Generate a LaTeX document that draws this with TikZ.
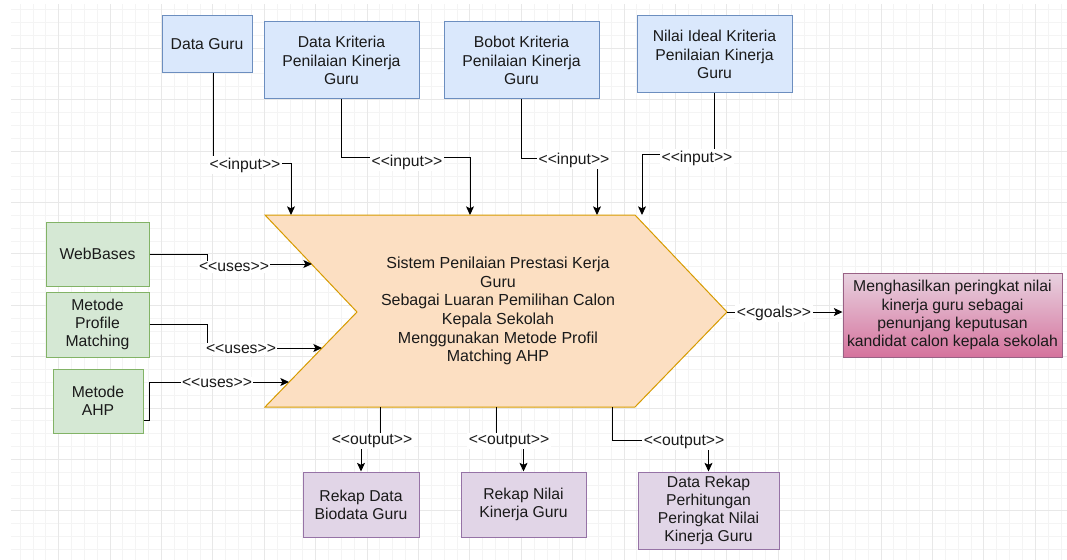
\documentclass[tikz,border=0pt]{standalone}
\usepackage{fontspec}
\setmainfont{Liberation Sans}
\usetikzlibrary{arrows.meta,calc}
\newcommand{\pxu}{0.75pt}
\definecolor{bfill}{HTML}{DAE8FC}
\definecolor{bdraw}{HTML}{6C8EBF}
\definecolor{gfill}{HTML}{D5E8D4}
\definecolor{gdraw}{HTML}{82B366}
\definecolor{pfill}{HTML}{E1D5E7}
\definecolor{pdraw}{HTML}{9673A6}
\definecolor{ofill}{HTML}{FCDFC2}
\definecolor{odraw}{HTML}{D79B00}
\definecolor{ktop}{HTML}{E8D2E0}
\definecolor{kbot}{HTML}{D5739D}
\definecolor{kdraw}{HTML}{996185}
\definecolor{minorg}{HTML}{F4F4F4}
\definecolor{majorg}{HTML}{E8E8E8}
\definecolor{txt}{HTML}{1A1A1A}
\begin{document}
\begin{tikzpicture}[x=0.75pt,y=-0.75pt,
  txtfont/.style={font=\fontsize{11.8}{13.6}\selectfont, text=txt},
  box/.style={draw, line width=0.75pt, align=center, inner sep=2pt, txtfont},
  sz/.style 2 args={minimum width=#1*0.75pt, minimum height=#2*0.75pt},
  bluebox/.style={box, fill=bfill, draw=bdraw},
  greenbox/.style={box, fill=gfill, draw=gdraw},
  purplebox/.style={box, fill=pfill, draw=pdraw},
  goalbox/.style={box, top color=ktop, bottom color=kbot, draw=kdraw},
  arr/.style={draw=black, line width=0.75pt, -{Stealth[length=6.5pt,width=6pt,inset=1.5pt]}},
  lbl/.style={fill=white, inner sep=1pt, txtfont},
  minorline/.style={draw=minorg, line width=0.75pt},
  majorline/.style={draw=majorg, line width=0.75pt}
]
\useasboundingbox (0,0) rectangle (1067,560);
\fill[white] (0,0) rectangle (1067,560);
% background grid
\begin{scope}
  \clip (11,5) rectangle (1067,560);
  \foreach \i in {0,...,84} {
    \draw[minorline] ({7.3+12.85*\i},0) -- ({7.3+12.85*\i},560);
  }
  \foreach \j in {0,...,45} {
    \draw[minorline] (0,{-3.1+12.85*\j}) -- (1067,{-3.1+12.85*\j});
  }
  \foreach \i in {0,...,21} {
    \draw[majorline] ({7.3+51.4*\i},0) -- ({7.3+51.4*\i},560);
  }
  \foreach \j in {0,...,11} {
    \draw[majorline] (0,{-3.1+51.4*\j}) -- (1067,{-3.1+51.4*\j});
  }
\end{scope}

% central chevron
\coordinate (cTL) at (265,215);
\coordinate (cTR) at (635,215);
\coordinate (tip) at (727,312);
\coordinate (cBR) at (635,407);
\coordinate (cBL) at (265,407);
\coordinate (notch) at (357,312);
\filldraw[fill=ofill, draw=odraw, line width=0.75pt]
  (cTL) -- (cTR) -- (tip) -- (cBR) -- (cBL) -- (notch) -- cycle;
\node[align=center, font=\fontsize{12}{14}\selectfont, text=txt] (sys) at (498,311)
  {Sistem Penilaian Prestasi Kerja\\Guru\\Sebagai Luaran Pemilihan Calon\\Kepala Sekolah\\Menggunakan Metode Profil\\Matching AHP};

% connection points on the chevron
\coordinate (t1) at (291,215);
\coordinate (t2) at (470,215);
\coordinate (t3) at (597,215);
\coordinate (t4) at (642,215);
\coordinate (l1) at (312,264);
\coordinate (l2) at (322,348);
\coordinate (l3) at (289,382);
\coordinate (b1) at (380,407);
\coordinate (b2) at (496,407);
\coordinate (b3) at (612,407);

% input boxes
\node[bluebox, sz={90}{57}] (dg) at (207,44.5) {Data Guru};
\node[bluebox, sz={155}{77}] (dk) at (341.5,60.5) {Data Kriteria\\Penilaian Kinerja\\Guru};
\node[bluebox, sz={155}{77}] (bk) at (521.5,60.5) {Bobot Kriteria\\Penilaian Kinerja\\Guru};
\node[bluebox, sz={155}{77}] (ni) at (714.5,54.5) {Nilai Ideal Kriteria\\Penilaian Kinerja\\Guru};

% uses boxes
\node[greenbox, sz={103}{64}] (wb) at (97.5,254) {WebBases};
\node[greenbox, sz={103}{65}] (pm) at (97.5,324.5) {Metode\\Profile\\Matching};
\node[greenbox, sz={90}{64}] (ahp) at (98,401) {Metode\\AHP};

% goal box
\node[goalbox, sz={219}{84}] (goal) at (952.5,315) {Menghasilkan peringkat nilai\\kinerja guru sebagai\\penunjang keputusan\\kandidat calon kepala sekolah};

% output boxes
\node[purplebox, sz={116}{65}] (o1) at (361,504.5) {Rekap Data\\Biodata Guru};
\node[purplebox, sz={125}{65}] (o2) at (523.5,504.5) {Rekap Nilai\\Kinerja Guru};
\node[purplebox, sz={141}{77}] (o3) at (708.5,510.5) {Data Rekap\\Perhitungan\\Peringkat Nilai\\Kinerja Guru};

% input connectors
\draw[arr] ([xshift=6*\pxu]dg.south) -- ++(0,90) -| (t1);
\node[lbl] (li1) at (245,165) {<{}<input>{}>};
\draw[arr] (dk.south) -- ++(0,58) -| (t2);
\node[lbl] (li2) at (407,162) {<{}<input>{}>};
\draw[arr] (bk.south) -- ++(0,59) -| (t3);
\node[lbl] (li3) at (574,160) {<{}<input>{}>};
\draw[arr] (ni.south) -- ++(0,61) -| (t4);
\node[lbl] (li4) at (697,158) {<{}<input>{}>};

% uses connectors
\draw[arr] (wb.east) -- ++(58,0) |- (l1);
\node[lbl] (lu1) at (234,267) {<{}<uses>{}>};
\draw[arr] (pm.east) -- ++(58,0) |- (l2);
\node[lbl] (lu2) at (241,349) {<{}<uses>{}>};
\draw[arr] ([yshift=-19*\pxu]ahp.east) -- ++(6,0) |- (l3);
\node[lbl] (lu3) at (217,383) {<{}<uses>{}>};

% goals connector
\draw[arr] (tip) -- (tip -| goal.west);
\node[lbl] (lg) at (774,313) {<{}<goals>{}>};

% output connectors
\draw[arr] (b1) -- ++(0,34) -| (o1.north);
\node[lbl] (lo1) at (372,441) {<{}<output>{}>};
\draw[arr] (b2) -- ++(0,34) -| (o2.north);
\node[lbl] (lo2) at (509,441) {<{}<output>{}>};
\draw[arr] (b3) -- ++(0,33) -| (o3.north);
\node[lbl] (lo3) at (684,442) {<{}<output>{}>};
\end{tikzpicture}
\end{document}
